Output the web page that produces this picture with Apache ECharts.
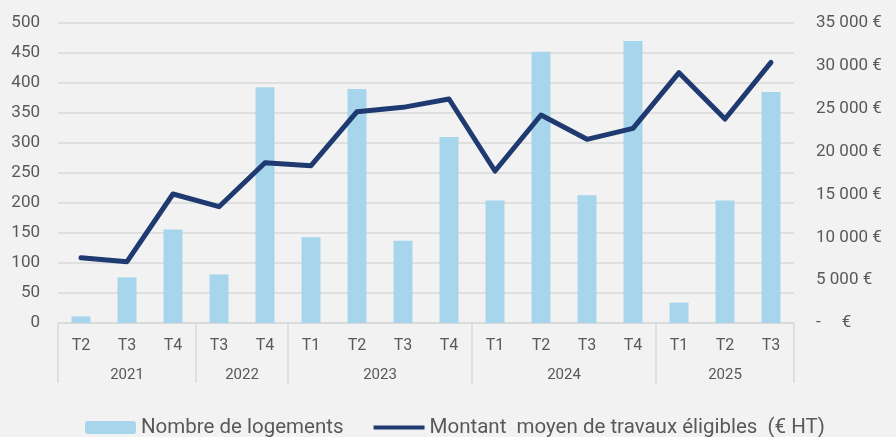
<!DOCTYPE html>
<html>
<head>
<meta charset="utf-8">
<script src="https://cdn.jsdelivr.net/npm/echarts@6/dist/echarts.min.js"></script>
<style>
  html, body { margin: 0; padding: 0; background: #f2f2f2; }
  #chart { width: 896px; height: 437px; }
</style>
</head>
<body>
<div id="chart"></div>
<script>
// données (16 trimestres)
const quarters = ['T2', 'T3', 'T4', 'T3', 'T4', 'T1', 'T2', 'T3', 'T4', 'T1', 'T2', 'T3', 'T4', 'T1', 'T2', 'T3'];
const years = ['2021', '2021', '2021', '2022', '2022', '2023', '2023', '2023', '2023', '2024', '2024', '2024', '2024', '2025', '2025', '2025'];
const nombreLogements = [11, 76, 156, 81, 393, 143, 390, 137, 310, 204, 452, 213, 470, 34, 204, 385];
const montantMoyen = [7620, 7150, 15050, 13570, 18700, 18350, 24650, 25160, 26130, 17730, 24270, 21430, 22710, 29200, 23800, 30410];

const barName = 'Nombre de logements';
const lineName = 'Montant  moyen de travaux éligibles  (€ HT)';

const n = quarters.length;

// years -> group boundaries and centers (in category units)
const bounds = [0];
const centers = [];
const groupNames = [];
let start = 0;
for (let i = 1; i <= n; i++) {
  if (i === n || years[i] !== years[start]) {
    bounds.push(i);
    centers.push((start + i) / 2);
    groupNames.push(years[start]);
    start = i;
  }
}

const grey = '#595959';
const gridCol = '#d9d9d9';
const font = 'Roboto';

const fmtEuro = (v) => {
  if (v === 0) return '-     €';
  return String(v).replace(/\B(?=(\d{3})+(?!\d))/g, ' ') + ' €';
};

const chart = echarts.init(document.getElementById('chart'));
chart.setOption({
  backgroundColor: '#f2f2f2',
  animation: false,
  textStyle: { fontFamily: font },
  grid: { left: 58, right: 102, top: 23, bottom: 114 },
  legend: {
    left: 80,
    top: 412,
    itemWidth: 51,
    itemHeight: 13,
    itemGap: 30,
    textStyle: { fontFamily: font, fontSize: 20.5, color: grey },
    data: [
      { name: barName },
      { name: lineName, icon: 'path://M0,0 L52,0 L52,4 L0,4 Z', itemStyle: { color: '#1f3a70' } }
    ]
  },
  xAxis: [
    {
      type: 'category',
      data: quarters,
      axisLine: { lineStyle: { color: gridCol, width: 1.5 } },
      axisTick: { show: false },
      axisLabel: { color: grey, fontSize: 16, margin: 15, fontFamily: font }
    },
    {
      type: 'value',
      position: 'bottom',
      min: 0,
      max: n,
      axisLine: { show: false },
      splitLine: { show: false },
      axisTick: {
        show: true,
        customValues: bounds,
        length: 60,
        lineStyle: { color: gridCol, width: 1.5 }
      },
      axisLabel: {
        customValues: centers,
        formatter: (v) => groupNames[centers.indexOf(v)] || '',
        color: grey,
        fontSize: 15,
        margin: 45,
        fontFamily: font
      }
    }
  ],
  yAxis: [
    {
      type: 'value',
      min: 0,
      max: 500,
      interval: 50,
      axisLine: { show: false },
      axisTick: { show: false },
      splitLine: { lineStyle: { color: gridCol, width: 1.5 } },
      axisLabel: { color: grey, fontSize: 17, margin: 18, fontFamily: font }
    },
    {
      type: 'value',
      min: 0,
      max: 35000,
      interval: 5000,
      axisLine: { show: false },
      axisTick: { show: false },
      splitLine: { show: false },
      axisLabel: {
        color: grey, fontSize: 17, margin: 22, fontFamily: font,
        formatter: fmtEuro
      }
    }
  ],
  series: [
    {
      name: barName,
      type: 'bar',
      data: nombreLogements,
      barWidth: 19,
      itemStyle: { color: '#a6d5ec' }
    },
    {
      name: lineName,
      type: 'line',
      yAxisIndex: 1,
      data: montantMoyen,
      symbol: 'none',
      lineStyle: { color: '#1f3a70', width: 5, cap: 'round', join: 'round' },
      itemStyle: { color: '#1f3a70' }
    }
  ]
});
</script>
</body>
</html>
